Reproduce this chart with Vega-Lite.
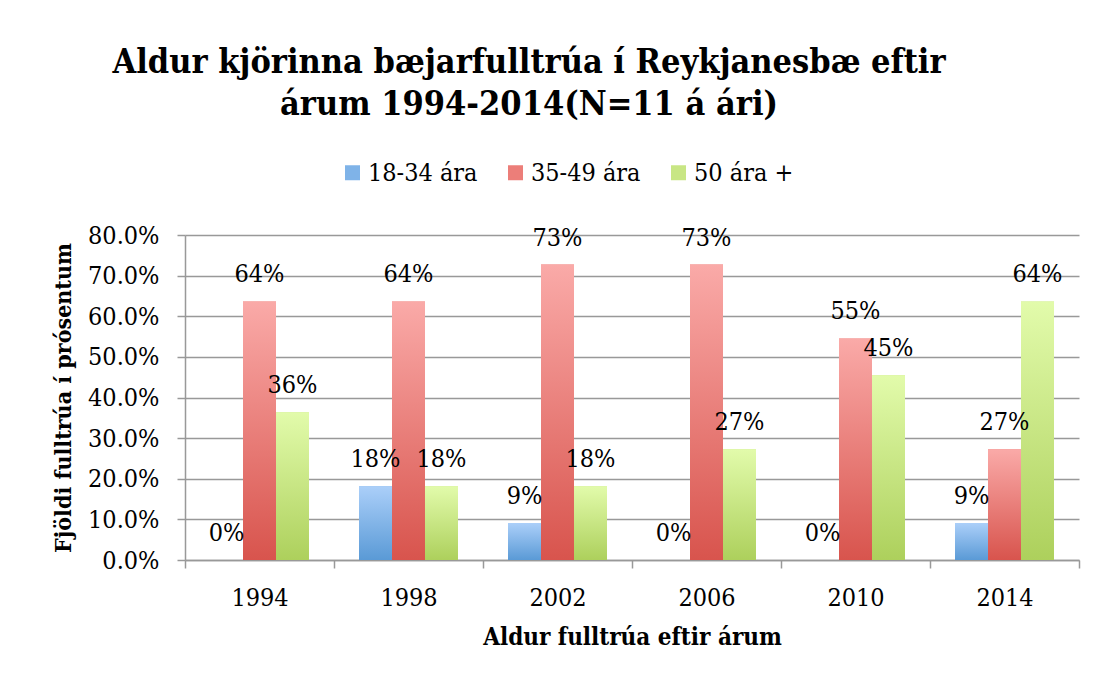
{
  "$schema": "https://vega.github.io/schema/vega-lite/v6.json",
  "width": 894,
  "height": 325,
  "autosize": "none",
  "padding": {"left": 185, "top": 235, "right": 25, "bottom": 124},
  "background": "white",
  "title": {
    "text": ["Aldur kjörinna bæjarfulltrúa í Reykjanesbæ eftir", "árum 1994-2014(N=11 á ári)"],
    "font": "DejaVu Serif Condensed, DejaVu Serif",
    "fontWeight": "bold",
    "fontSize": 34,
    "lineHeight": 42,
    "color": "#000000",
    "anchor": "middle",
    "frame": "group",
    "dx": -103,
    "offset": 38
  },
  "data": {
    "values": [
      {"year": "1994", "group": "18-34 ára", "value": 0},
      {"year": "1994", "group": "35-49 ára", "value": 0.6364},
      {"year": "1994", "group": "50 ára +", "value": 0.3636},
      {"year": "1998", "group": "18-34 ára", "value": 0.1818},
      {"year": "1998", "group": "35-49 ára", "value": 0.6364},
      {"year": "1998", "group": "50 ára +", "value": 0.1818},
      {"year": "2002", "group": "18-34 ára", "value": 0.0909},
      {"year": "2002", "group": "35-49 ára", "value": 0.7273},
      {"year": "2002", "group": "50 ára +", "value": 0.1818},
      {"year": "2006", "group": "18-34 ára", "value": 0},
      {"year": "2006", "group": "35-49 ára", "value": 0.7273},
      {"year": "2006", "group": "50 ára +", "value": 0.2727},
      {"year": "2010", "group": "18-34 ára", "value": 0},
      {"year": "2010", "group": "35-49 ára", "value": 0.5455},
      {"year": "2010", "group": "50 ára +", "value": 0.4545},
      {"year": "2014", "group": "18-34 ára", "value": 0.0909},
      {"year": "2014", "group": "35-49 ára", "value": 0.2727},
      {"year": "2014", "group": "50 ára +", "value": 0.6364}
    ]
  },
  "encoding": {
    "x": {
      "field": "year",
      "type": "nominal",
      "scale": {"paddingInner": 0, "paddingOuter": 0},
      "axis": {
        "title": "Aldur fulltrúa eftir árum",
        "titleFontSize": 24,
        "labelAngle": 0,
        "tickBand": "extent",
        "tickSize": 8,
        "labelPadding": 17,
        "titlePadding": 15,
        "grid": false
      }
    },
    "xOffset": {
      "field": "group",
      "type": "nominal",
      "scale": {"domain": ["18-34 ára", "35-49 ára", "50 ára +"], "paddingInner": 0, "paddingOuter": 0.758}
    },
    "y": {
      "field": "value",
      "type": "quantitative",
      "scale": {"domain": [0, 0.8], "nice": false},
      "axis": {
        "title": "Fjöldi fulltrúa í prósentum",
        "format": ".1%",
        "values": [0, 0.1, 0.2, 0.3, 0.4, 0.5, 0.6, 0.7, 0.8],
        "tickSize": 8,
        "labelPadding": 18,
        "titlePadding": 12,
        "grid": true
      }
    }
  },
  "layer": [
    {
      "mark": {"type": "bar"},
      "encoding": {
        "color": {
          "field": "group",
          "type": "nominal",
          "scale": {
            "domain": ["18-34 ára", "35-49 ára", "50 ára +"],
            "range": ["#7fb3e8", "#ec7e79", "#c8e684"]
          },
          "legend": {
            "title": null,
            "orient": "none",
            "direction": "horizontal",
            "legendX": 155,
            "legendY": -75,
            "symbolType": "square",
            "symbolSize": 225,
            "symbolStrokeWidth": 0,
            "labelOffset": 3,
            "columnPadding": 25,
            "labelFontSize": 25
          }
        }
      }
    },
    {
      "transform": [{"filter": "datum.group === '18-34 ára'"}],
      "mark": {"type": "bar", "fill": {"gradient": "linear", "x1": 0, "y1": 0, "x2": 0, "y2": 1, "stops": [{"offset": 0, "color": "#abcff9"}, {"offset": 1, "color": "#5a9ad6"}]}}
    },
    {
      "transform": [{"filter": "datum.group === '35-49 ára'"}],
      "mark": {"type": "bar", "fill": {"gradient": "linear", "x1": 0, "y1": 0, "x2": 0, "y2": 1, "stops": [{"offset": 0, "color": "#faaaa8"}, {"offset": 1, "color": "#d8544d"}]}}
    },
    {
      "transform": [{"filter": "datum.group === '50 ára +'"}],
      "mark": {"type": "bar", "fill": {"gradient": "linear", "x1": 0, "y1": 0, "x2": 0, "y2": 1, "stops": [{"offset": 0, "color": "#e2fbab"}, {"offset": 1, "color": "#add05c"}]}}
    },
    {
      "mark": {"type": "text", "baseline": "alphabetic", "dy": -19, "fontSize": 25, "font": "DejaVu Serif Condensed, DejaVu Serif", "color": "#000000"},
      "encoding": {
        "text": {"field": "value", "type": "quantitative", "format": ".0%"}
      }
    }
  ],
  "config": {
    "view": {"stroke": null},
    "axis": {
      "labelFont": "DejaVu Serif Condensed, DejaVu Serif",
      "labelFontSize": 25,
      "labelColor": "#000000",
      "titleFont": "DejaVu Serif Condensed, DejaVu Serif",
      "titleFontSize": 23,
      "titleFontWeight": "bold",
      "titleColor": "#000000",
      "domainColor": "#999999",
      "domainWidth": 1.5,
      "tickColor": "#999999",
      "tickWidth": 1.5,
      "gridColor": "#999999",
      "gridWidth": 1.5
    },
    "legend": {
      "labelFont": "DejaVu Serif Condensed, DejaVu Serif",
      "labelColor": "#000000"
    }
  }
}
